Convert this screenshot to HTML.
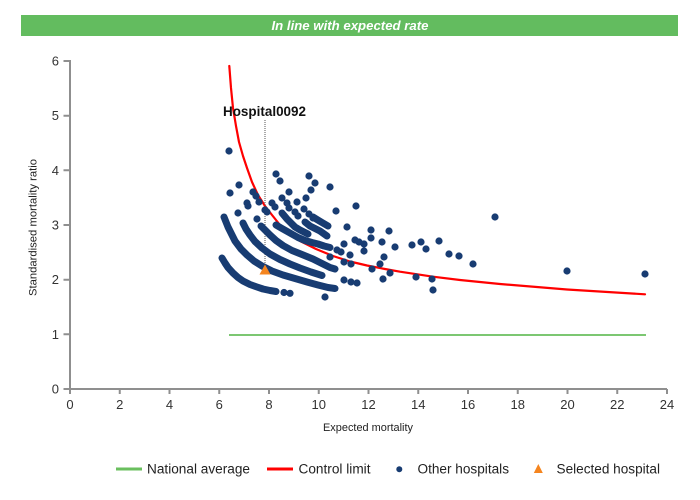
<!DOCTYPE html>
<html>
<head>
<meta charset="utf-8">
<style>
html,body{margin:0;padding:0;background:#fff;}
svg{display:block;}
text{font-family:"Liberation Sans", Arial, sans-serif;}
</style>
</head>
<body>
<svg width="700" height="500" viewBox="0 0 700 500" xmlns="http://www.w3.org/2000/svg">
<rect width="700" height="500" fill="#fff"/>
<rect x="21" y="15" width="657" height="21" fill="#63bc5f"/>
<text x="350" y="30" text-anchor="middle" font-size="13" font-weight="bold" font-style="italic" fill="#fff" textLength="157" lengthAdjust="spacingAndGlyphs">In line with expected rate</text>
<path d="M70 60V390M69 389H667M63.5 389h6.5M63.5 334.3h6.5M63.5 279.7h6.5M63.5 225h6.5M63.5 170.3h6.5M63.5 115.7h6.5M63.5 61h6.5M70 389v5M119.75 389v5M169.5 389v5M219.25 389v5M269 389v5M318.75 389v5M368.5 389v5M418.25 389v5M468 389v5M517.75 389v5M567.5 389v5M617.25 389v5M667 389v5" stroke="#8f8f8f" stroke-width="2" fill="none"/>
<text font-size="13" fill="#333" text-anchor="end" x="59" y="393.5">0</text>
<text font-size="13" fill="#333" text-anchor="end" x="59" y="338.8">1</text>
<text font-size="13" fill="#333" text-anchor="end" x="59" y="284.2">2</text>
<text font-size="13" fill="#333" text-anchor="end" x="59" y="229.5">3</text>
<text font-size="13" fill="#333" text-anchor="end" x="59" y="174.8">4</text>
<text font-size="13" fill="#333" text-anchor="end" x="59" y="120.2">5</text>
<text font-size="13" fill="#333" text-anchor="end" x="59" y="65.5">6</text>
<text font-size="13" fill="#333" y="409"><tspan x="66.4">0</tspan><tspan x="116.1">2</tspan><tspan x="165.9">4</tspan><tspan x="215.6">6</tspan><tspan x="265.4">8</tspan><tspan x="311.5">10</tspan><tspan x="361.3">12</tspan><tspan x="411">14</tspan><tspan x="460.8">16</tspan><tspan x="510.5">18</tspan><tspan x="560.3">20</tspan><tspan x="610">22</tspan><tspan x="659.8">24</tspan></text>
<text x="368" y="431" text-anchor="middle" font-size="11" fill="#222" textLength="90" lengthAdjust="spacingAndGlyphs">Expected mortality</text>
<text transform="translate(36.5,227.5) rotate(-90)" text-anchor="middle" font-size="11" fill="#222" textLength="137" lengthAdjust="spacingAndGlyphs">Standardised mortality ratio</text>
<path d="M229 335H646" stroke="#6abf5e" stroke-width="1.8"/>
<polyline fill="none" stroke="#f00" stroke-width="2.2" stroke-linejoin="round" stroke-linecap="round" points="229.3,66 231,88 233,108 236,126 239,142 243,156 247,168 252,182 258,195 265,206 272,215 280,225 290,234 300,241 316,249 333,256 350,261.5 367,265.5 385,269 400,271.7 433,276.7 460,280 500,284 567,289.5 645,294.3"/>
<path d="M265 120V266" stroke="#555" stroke-width="1" stroke-dasharray="1,1"/>
<text x="223" y="116" font-size="13.5" font-weight="bold" fill="#111" textLength="83" lengthAdjust="spacingAndGlyphs">Hospital0092</text>
<path fill="none" stroke="#183c72" stroke-width="7" stroke-linecap="round" stroke-linejoin="round" d="M222 258L225 263 228 267.5 233 273 238 277.5 243 281 250 284.5 257 287 263 289 270 290.5 276 291.5M224 217L226 222 228 227 231 233 235 241 241 249 247 255 254 261 262 266 272 271 283 275 295 278.5 307 282 318 285 328 287.5 335 288.5M243 223L246 229 250 235 255 241.5 262 248 270 254 280 259.5 290 264 300 268 311 272 322 275.5M261 226L265 230 270 235 276 240.5 283 245.5 292 250.5 302 254.5 313 259 323 264 330 267.5 335 269M276 225L282 228.5 290 233 298 237.5 305 240.5 312 242.5 318 244 324 246 330 247.5M282 213L287 219 291 223 295 227 300 230 305 232.5 308 234M305 222L310 226 315 228.5 320 231 327 236M313 217L317 219.5 322 222.5 328 226"/>
<path fill="none" stroke="#183c72" stroke-width="7.2" stroke-linecap="round" d="M229 151h0M230 193h0M239 185h0M238 213h0M253 192h0M256 196h0M247 203h0M248 206h0M259 202h0M257 219h0M276 174h0M280 181h0M289 192h0M265 210h0M267 212h0M272 203h0M275 207h0M282 198h0M287 203h0M289 208h0M297 202h0M306 198h0M304 209h0M295 212h0M298 216h0M309 176h0M315 183h0M330 187h0M311 190h0M336 211h0M356 206h0M347 227h0M309 214h0M313 218h0M371 230h0M371 238h0M389 231h0M382 242h0M395 247h0M412 245h0M421 242h0M426 249h0M439 241h0M449 254h0M459 256h0M473 264h0M495 217h0M384 257h0M380 264h0M372 269h0M390 273h0M383 279h0M416 277h0M432 279h0M433 290h0M355 240h0M359 242h0M364 244h0M344 244h0M364 251h0M351 264h0M344 262h0M337 250h0M341 252h0M350 255h0M330 257h0M344 280h0M351 282h0M357 283h0M325 297h0M284 292.5h0M290 293.3h0M567 271h0M645 274h0"/>
<polygon points="265,264.5 259.5,274.5 270.5,274.5" fill="#f5851f"/>
<path d="M116 469H142" stroke="#6abf5e" stroke-width="3"/>
<text x="147" y="473.5" font-size="13.5" fill="#222" textLength="103" lengthAdjust="spacingAndGlyphs">National average</text>
<path d="M267 469H293" stroke="#f00" stroke-width="3"/>
<text x="298.5" y="473.5" font-size="13.5" fill="#222" textLength="72" lengthAdjust="spacingAndGlyphs">Control limit</text>
<circle cx="399.3" cy="469.3" r="3" fill="#183c72"/>
<text x="417.5" y="473.5" font-size="13.5" fill="#222" textLength="91.5" lengthAdjust="spacingAndGlyphs">Other hospitals</text>
<polygon points="538.3,464 533.8,473 542.8,473" fill="#f5851f"/>
<text x="556.5" y="473.5" font-size="13.5" fill="#222" textLength="103.5" lengthAdjust="spacingAndGlyphs">Selected hospital</text>
</svg>
</body>
</html>
